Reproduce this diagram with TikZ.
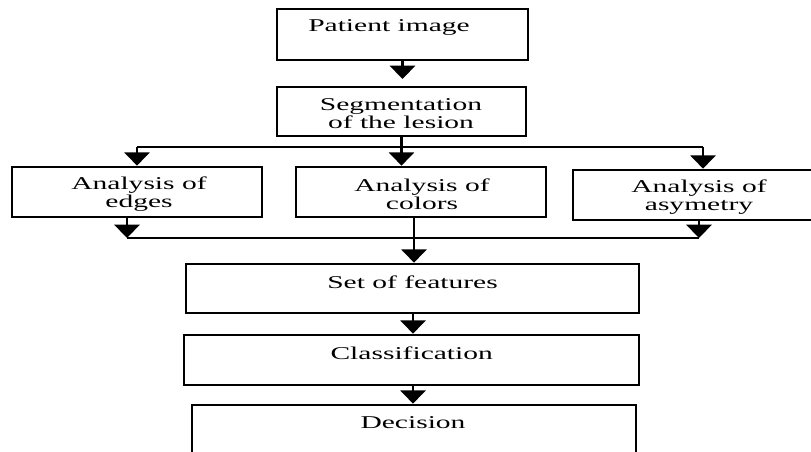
\documentclass[tikz,border=0pt]{standalone}
\usepackage{fontspec}
\setmainfont{Liberation Serif}
\usetikzlibrary{arrows.meta,fit}
\newcommand{\wtx}[1]{\scalebox{1.64}[1]{#1}}
\begin{document}
\begin{tikzpicture}[x=0.75pt,y=-0.75pt,
  box/.style={draw=black,line width=2pt,inner sep=0pt},
  lbl/.style={font=\fontsize{13.5}{13.5}\selectfont,align=center,inner sep=0pt,text=black},
  conn/.style={line width=1.6pt,draw=black},
  arr/.style={conn,-{Triangle[width=19pt,length=10pt]}}]
\useasboundingbox (0,0) rectangle (811,452);
% boxes
\node[box,fit={(277,9) (528,60)}] (patient) {};
\node[box,fit={(277,87) (526,136)}] (seg) {};
\node[box,fit={(12,167) (262,217)}] (edges) {};
\node[box,fit={(296,167) (546,217)}] (colors) {};
\node[box,fit={(573,170) (816,220)}] (asym) {};
\node[box,fit={(186,264) (639,313)}] (feat) {};
\node[box,fit={(184,335) (639,385)}] (cls) {};
\node[box,fit={(192,405) (636,470)}] (dec) {};
% labels
\node[lbl] (tpatient) at (389,27) {\wtx{Patient image}};
\node[lbl] (tseg) at (401,114) {\wtx{Segmentation}\\\wtx{of the lesion}};
\node[lbl] (tedges) at (139,194) {\wtx{Analysis of}\\\wtx{edges}};
\node[lbl] (tcolors) at (422,194) {\wtx{Analysis of}\\\wtx{colors}};
\node[lbl] (tasym) at (699,197.5) {\wtx{Analysis of}\\\wtx{asymetry}};
\node[lbl] (tfeat) at (412.5,282) {\wtx{Set of features}};
\node[lbl] (tcls) at (411.7,353) {\wtx{Classification}};
\node[lbl] (tdec) at (413,423) {\wtx{Decision}};
% junction points
\coordinate (jl) at (137,147);
\coordinate (jr) at (703,147);
\coordinate (bl) at (127,238);
\coordinate (br) at (699,238);
\coordinate (bc) at (414,238);
\coordinate (fc) at (413,0);
% connectors
\draw[arr,shorten >=5pt] (patient.south) -- (patient.south |- seg.north);
\draw[conn] (jl) -- (jr);
\draw[arr] (jl) -- (jl |- edges.north);
\draw[arr] (seg.south) -- (seg.south |- colors.north);
\draw[arr] (jr) -- (jr |- asym.north);
\draw[conn] (bl) -- (br);
\draw[arr] (edges.south -| bl) -- (bl);
\draw[arr] (asym.south -| br) -- (br);
\draw[arr] (colors.south -| bc) -- (bc |- feat.north);
\draw[arr] (feat.south -| fc) -- (fc |- cls.north);
\draw[arr] (cls.south -| fc) -- (fc |- dec.north);
\end{tikzpicture}
\end{document}
